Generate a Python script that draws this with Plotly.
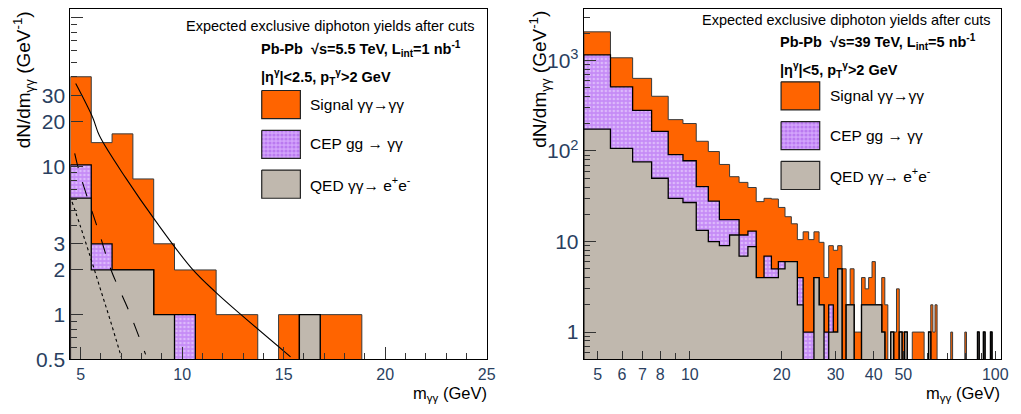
import numpy as np
import plotly.graph_objects as go

# the page puts the figure 8 px from the window's top-left corner (default body margin),
# so the figure is sized to reach exactly the window's right and bottom edges
W, H = 1013, 406
OFF = 8

# ---------------- data: left panel (sqrt(s)=5.5 TeV), 20 bins 4.5-25 GeV ----------------
left_edges = np.linspace(4.5, 25.0, 21)
left_total = [40, 14.4, 16.5, 8.2, 3, 2, 2, 1, 1, 0, 1, 1, 1, 1, 0, 0, 0, 0, 0, 0]
left_cep_qed = [10.2, 3, 2, 2, 1, 1, 0, 0, 0, 0, 0, 1, 0, 0, 0, 0, 0, 0, 0, 0]
left_qed = [6.1, 2, 2, 2, 1, 0, 0, 0, 0, 0, 0, 1, 0, 0, 0, 0, 0, 0, 0, 0]

# theory curves
curve_solid_x = [4.76, 5.6, 5.93, 7.23, 8.7, 10.47, 11.62, 12.9, 15.34]
curve_solid_y = [36, 21.2, 16.0, 8.3, 4.26, 2.05, 1.43, 1.0, 0.52]
curve_dash_x = [4.71, 4.95, 5.93, 6.5, 7.39, 8.2]
curve_dash_y = [12.2, 9.0, 3.5, 2.0, 1.05, 0.54]
curve_dot_x = [4.58, 5.0, 5.5, 6.0, 6.5, 7.0]
curve_dot_y = [5.75, 3.9, 2.4, 1.45, 0.88, 0.52]

# ---------------- data: right panel (sqrt(s)=39 TeV), 1 GeV bins from 4.5 ----------------
right_mass = list(range(5, 105))
right_total = [2070, 1070, 634, 402, 222, 201, 128, 98.6, 71, 52,
               45, 39.5, 27.6, 30, 29.5, 23.8, 18.8, 15.7, 10.5, 12.8,
               10.5, 12.8, 9.8, 4, 9, 8, 9, 5, 2, 5,
               1, 1, 4, 3, 4, 6, 2, 2, 4, 2,
               0, 1, 1, 3, 1, 1, 1, 0, 0, 1,
               1, 1, 1, 1, 0, 0, 1, 2, 1, 2,
               0, 0, 0, 0, 0, 0, 0, 1, 0, 0,
               0, 0, 0, 0, 0, 1, 0, 0, 0, 0,
               0, 0, 0, 1, 0, 0, 0, 1, 0, 0,
               0, 0, 1, 0, 0, 0, 0, 0, 0, 0]
right_cep_qed = [1150, 510, 281, 165, 91, 78, 40.5, 28, 17.5, 17.5,
                 11.8, 13, 4, 6.9, 5, 6, 6, 6, 4, 1,
                 1, 4, 2, 1, 2, 1, 5, 0, 2, 2,
                 0, 0, 2, 2, 2, 2, 2, 2, 1, 0,
                 0, 1, 0, 0, 1, 0, 1, 0, 0, 0,
                 0, 0, 0, 0, 0, 0, 1, 0, 0, 0,
                 0, 0, 0, 0, 0, 0, 0, 0, 0, 0,
                 0, 0, 0, 0, 0, 0, 0, 0, 0, 0,
                 0, 0, 0, 1, 0, 0, 0, 1, 0, 0,
                 0, 0, 1, 0, 0, 0, 0, 0, 0, 0]
right_qed = [174, 107, 76, 50, 30, 27, 13.3, 10, 9, 11.8,
             6.9, 8.8, 4, 4, 4, 5, 6, 6, 2, 0,
             0, 4, 2, 0, 1, 1, 5, 0, 2, 2,
             0, 0, 2, 2, 2, 2, 2, 2, 1, 0,
             0, 1, 0, 0, 1, 0, 1, 0, 0, 0,
             0, 0, 0, 0, 0, 0, 1, 0, 0, 0,
             0, 0, 0, 0, 0, 0, 0, 0, 0, 0,
             0, 0, 0, 0, 0, 0, 0, 0, 0, 0,
             0, 0, 0, 1, 0, 0, 0, 1, 0, 0,
             0, 0, 1, 0, 0, 0, 0, 0, 0, 0]
right_edges = [m - 0.5 for m in right_mass] + [right_mass[-1] + 0.5]

# ---------------- styles ----------------
ORANGE = "#ff6400"
GRAY = "#c0b8ae"
PURPLE_BG = "#c58cf6"
PURPLE_FG = "#f3e6ff"
FONT = "Liberation Sans, Arial, Helvetica, sans-serif"


def step_polygon(edges, vals, floor=1e-3):
    xs, ys = [edges[0]], [floor]
    for i, v in enumerate(vals):
        vv = v if v > 0 else floor
        xs += [edges[i], edges[i + 1]]
        ys += [vv, vv]
    xs += [edges[-1], edges[0]]
    ys += [floor, floor]
    return xs, ys


fig = go.Figure()


def add_hists(edges, tot, cep, qed, xa, ya):
    x, y = step_polygon(edges, tot)
    fig.add_trace(go.Scatter(x=x, y=y, fill="toself", fillcolor=ORANGE, mode="lines",
                             line=dict(color="#3a3a3a", width=1), xaxis=xa, yaxis=ya,
                             showlegend=False, hoverinfo="skip"))
    x, y = step_polygon(edges, cep)
    fig.add_trace(go.Scatter(x=x, y=y, fill="toself", fillcolor=PURPLE_BG, mode="lines",
                             fillpattern=dict(shape=".", bgcolor=PURPLE_BG, fgcolor=PURPLE_FG,
                                              size=4, solidity=0.35),
                             line=dict(color="black", width=1.3), xaxis=xa, yaxis=ya,
                             showlegend=False, hoverinfo="skip"))
    x, y = step_polygon(edges, qed)
    fig.add_trace(go.Scatter(x=x, y=y, fill="toself", fillcolor=GRAY, mode="lines",
                             line=dict(color="black", width=1.3), xaxis=xa, yaxis=ya,
                             showlegend=False, hoverinfo="skip"))


add_hists(list(left_edges), left_total, left_cep_qed, left_qed, "x", "y")
add_hists(right_edges, right_total, right_cep_qed, right_qed, "x2", "y2")

for cx, cy, dash in [(curve_solid_x, curve_solid_y, "solid"),
                     (curve_dash_x, curve_dash_y, "longdash"),
                     (curve_dot_x, curve_dot_y, "dot")]:
    fig.add_trace(go.Scatter(x=cx, y=cy, mode="lines", line=dict(color="black", width=1.1,
                             dash=dash, shape="spline", smoothing=1.0),
                             xaxis="x", yaxis="y", showlegend=False, hoverinfo="skip"))


# ---------------- helpers: window pixel -> figure coordinates ----------------
def fx(x):
    return x - OFF


def fy(y):
    return y - OFF


def px(x):
    return fx(x) / W


def py(y):
    return 1 - fy(y) / H


# ---------------- legend boxes (overlay axis in pixel units) ----------------
def box(x0, y0, x1, y1, color, pattern=None):
    kw = {}
    if pattern:
        kw["fillpattern"] = pattern
    xs = [fx(x0), fx(x1), fx(x1), fx(x0), fx(x0)]
    ys = [fy(y0), fy(y0), fy(y1), fy(y1), fy(y0)]
    fig.add_trace(go.Scatter(x=xs, y=ys, fill="toself", fillcolor=color, mode="lines",
                             line=dict(color="#222", width=1.2),
                             xaxis="x3", yaxis="y3", showlegend=False, hoverinfo="skip", **kw))


cep_pat = dict(shape=".", bgcolor="#d3a4fb", fgcolor="#a24fe6", size=4, solidity=0.5)
for bx, by in [(264, 92), (788, 83)]:
    box(bx, by, bx + 39, by + 29, ORANGE)
    box(bx, by + 41, bx + 39, by + 70, "#c48af5", cep_pat)
    box(bx, by + 82, bx + 39, by + 111, GRAY)

ann = []


def text(x, y, s, size, xanchor="left", yanchor="middle", angle=0, ypaper=None):
    ann.append(dict(x=px(x), y=py(y) if ypaper is None else ypaper, xref="paper", yref="paper",
                    text=s, showarrow=False, xanchor=xanchor, yanchor=yanchor, textangle=angle,
                    font=dict(family=FONT, size=size, color="black")))


# left panel texts
text(481, 26, "Expected exclusive diphoton yields after cuts", 14.5, "right")
text(261, 49, "<b>Pb-Pb  √s=5.5 TeV, L<sub>int</sub>=1 nb<sup>-1</sup></b>", 14.5)
text(261, 78, "<b>|η<sup>γ</sup>|&lt;2.5, p<sub>T</sub><sup>γ</sup>&gt;2 GeV</b>", 14.5)
text(311, 106, "Signal γγ→γγ", 15.5)
text(311, 147, "CEP gg → γγ", 15.5)
text(311, 188, "QED γγ→ e<sup>+</sup>e<sup>-</sup>", 15.5)
# right panel texts
text(1002, 19, "Expected exclusive diphoton yields after cuts", 14.5, "right")
text(785, 42, "<b>Pb-Pb  √s=39 TeV, L<sub>int</sub>=5 nb<sup>-1</sup></b>", 14.5)
text(785, 71, "<b>|η<sup>γ</sup>|&lt;5, p<sub>T</sub><sup>γ</sup>&gt;2 GeV</b>", 14.5)
text(835, 97, "Signal γγ→γγ", 15.5)
text(835, 138, "CEP gg → γγ", 15.5)
text(835, 179, "QED γγ→ e<sup>+</sup>e<sup>-</sup>", 15.5)
# axis titles
text(24, 0, "dN/dm<sub>γγ</sub> (GeV<sup>-1</sup>)", 19, "center", "top", -90, ypaper=1.0)
text(544, 0, "dN/dm<sub>γγ</sub> (GeV<sup>-1</sup>)", 19, "center", "top", -90, ypaper=1.0)
text(493, 405, "m<sub>γγ</sub> (GeV)", 16.5, "right")
text(1011, 405, "m<sub>γγ</sub> (GeV)", 16.5, "right")

axis_common = dict(showline=True, mirror=True, linecolor="black", linewidth=1.2,
                   ticks="inside", tickcolor="#333", tickwidth=1.2, showgrid=False,
                   zeroline=False, fixedrange=True)
Y_BOTTOM = 369  # window px of the frame bottom
Y_TOP = OFF     # window px of the frame top
yd = [py(Y_BOTTOM), 1.0]
left_ytop = np.log10(0.5) + (Y_BOTTOM - Y_TOP) / 153.0
right_ytop = np.log10(0.5) + (Y_BOTTOM - Y_TOP) / 93.3

fig.update_layout(
    width=W, height=H, margin=dict(l=0, r=0, t=0, b=0),
    paper_bgcolor="white", plot_bgcolor="rgba(0,0,0,0)",
    showlegend=False, annotations=ann,
    xaxis=dict(domain=[px(71), px(491)], range=[4.5, 25], anchor="y",
               tickvals=[5, 10, 15, 20, 25], ticklen=12,
               minor=dict(tickvals=list(range(5, 26)), ticklen=6, ticks="inside",
                          tickcolor="#333", tickwidth=1),
               tickfont=dict(family=FONT, size=16), **axis_common),
    yaxis=dict(domain=yd, type="log", range=[np.log10(0.5), left_ytop], anchor="x",
               tickvals=[0.5, 1, 2, 3, 10, 20, 30, 100],
               ticktext=["0.5", "1", "2", "3", "10", "20", "30", "100"], ticklen=12,
               minor=dict(tickvals=[0.6, 0.7, 0.8, 0.9, 4, 5, 6, 7, 8, 9, 40, 50, 60, 70, 80, 90],
                          ticklen=6, ticks="inside", tickcolor="#333", tickwidth=1),
               tickfont=dict(family=FONT, size=21), **axis_common),
    xaxis2=dict(domain=[px(589), px(1010)], type="log",
                range=[np.log10(4.5), np.log10(104.5)], anchor="y2",
                tickvals=[5, 6, 7, 8, 10, 20, 30, 40, 50, 100],
                ticktext=["5", "6", "7", "8", "10", "20", "30", "40", "50", "100"], ticklen=8,
                minor=dict(tickvals=[9, 60, 70, 80, 90], ticklen=6, ticks="inside",
                           tickcolor="#333", tickwidth=1),
                tickfont=dict(family=FONT, size=16), **axis_common),
    yaxis2=dict(domain=yd, type="log", range=[np.log10(0.5), right_ytop], anchor="x2",
                tickvals=[1, 10, 100, 1000],
                ticktext=["1", "10", "10<sup>2</sup>", "10<sup>3</sup>"], ticklen=12,
                minor=dict(tickvals=[0.6, 0.7, 0.8, 0.9, 2, 3, 4, 5, 6, 7, 8, 9,
                                     20, 30, 40, 50, 60, 70, 80, 90,
                                     200, 300, 400, 500, 600, 700, 800, 900, 2000, 3000],
                           ticklen=6, ticks="inside", tickcolor="#333", tickwidth=1),
                tickfont=dict(family=FONT, size=21), **axis_common),
    xaxis3=dict(domain=[0, 1], range=[0, W], anchor="y3", visible=False, fixedrange=True),
    yaxis3=dict(domain=[0, 1], range=[H, 0], anchor="x3", visible=False, fixedrange=True),
)

fig.write_html("out.html")
